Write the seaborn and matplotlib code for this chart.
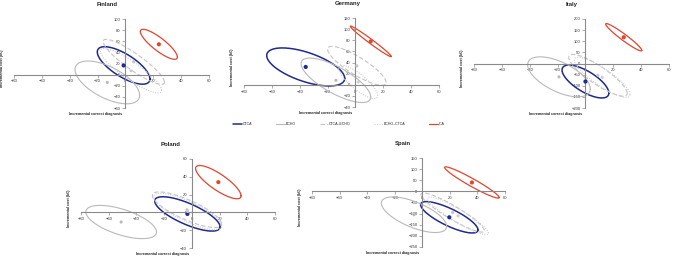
import numpy as np
import pandas as pd
import matplotlib
matplotlib.use("Agg")
import matplotlib.pyplot as plt
from matplotlib.lines import Line2D
import seaborn as sns

# ── data ──────────────────────────────────────────────────
COUNTRIES = ["Finland", "Germany", "Italy", "Poland", "Spain"]
STRATEGIES = ["CTCA", "ECHO", "CTCA–ECHO", "ECHO–CTCA", "ICA"]

# rows = countries, cols = strategies (same order as above)
DX_MEAN = [
    [-1.3, -13.0, 6.0, 4.0, 24.0],
    [-35.7, -14.0, 1.0, 2.0, 11.0],
    [0.0, -19.0, 9.0, 12.0, 27.5],
    [-3.2, -51.0, -3.5, -3.0, 19.1],
    [19.6, -6.0, 22.0, 26.0, 36.0],
]
COST_MEAN = [
    [16.5, -14.0, 23.0, 7.0, 54.5],
    [32.0, 8.0, 34.0, 5.0, 78.0],
    [-81.0, -60.0, -53.0, -62.0, 118.0],
    [-1.7, -10.8, 3.0, 1.0, 34.0],
    [-116.5, -105.0, -95.0, -110.0, 40.0],
]
# half extent of the confidence ellipse along each axis
DX_HALF = [
    [18.9, 23.2, 22.0, 22.0, 13.3],
    [28.0, 25.0, 21.0, 14.0, 14.7],
    [16.8, 22.5, 21.0, 20.0, 13.0],
    [23.6, 25.5, 25.0, 24.5, 16.4],
    [20.8, 23.7, 23.0, 22.0, 19.8],
]
COST_HALF = [
    [33.7, 38.5, 40.5, 40.0, 27.0],
    [34.2, 40.0, 35.0, 30.0, 27.5],
    [74.0, 90.0, 94.0, 90.0, 61.5],
    [19.3, 18.7, 20.0, 20.5, 18.7],
    [70.5, 80.0, 88.0, 85.0, 70.4],
]
RHO = [
    [-0.72, -0.60, -0.90, -0.88, -0.85],
    [-0.60, -0.75, -0.85, -0.82, -0.985],
    [-0.70, -0.60, -0.86, -0.86, -0.96],
    [-0.75, -0.60, -0.80, -0.80, -0.82],
    [-0.80, -0.65, -0.92, -0.92, -0.96],
]
X_TICKS = list(range(-80, 61, 20))
Y_TICKS = [
    list(range(-60, 101, 20)),
    list(range(-40, 121, 20)),
    list(range(-200, 201, 50)),
    list(range(-40, 61, 20)),
    list(range(-250, 151, 50)),
]

# ── style ─────────────────────────────────────────────────
COLORS = {"CTCA": "#1f2a8c", "ECHO": "#b9b9b9", "CTCA–ECHO": "#c4c4c4",
          "ECHO–CTCA": "#cdcdcd", "ICA": "#e2452d"}
DASHES = {"CTCA": "", "ECHO": "", "CTCA–ECHO": (4, 2),
          "ECHO–CTCA": (1, 1.2), "ICA": ""}
WIDTHS = {"CTCA": 1.1, "ECHO": 0.8, "CTCA–ECHO": 0.8, "ECHO–CTCA": 0.8, "ICA": 0.9}
DOTS = {"CTCA": 9, "ECHO": 5, "CTCA–ECHO": 5, "ECHO–CTCA": 5, "ICA": 9}
AXIS_GREY = "#8a8a8a"

sns.set_theme(style="white")
plt.rcParams["font.family"] = ["Liberation Sans", "DejaVu Sans"]

# axes boxes in pixels: left, top(y max), right, bottom(y min)
BOXES = [(14, 19, 209, 108), (244, 18, 439, 107), (474, 19, 669, 108),
         (81, 159, 275, 248), (312, 158, 505, 247)]
TITLE_X = [0.48, 0.53, 0.50, 0.46, 0.47]
W, H = 673, 259

fig = plt.figure(figsize=(W / 100, H / 100), dpi=100)
t = np.linspace(0, 2 * np.pi, 200)

for i, country in enumerate(COUNTRIES):
    l, top, r, bot = BOXES[i]
    ax = fig.add_axes([l / W, 1 - bot / H, (r - l) / W, (bot - top) / H])

    rows = []
    for j, s in enumerate(STRATEGIES):
        a, b, rho = DX_HALF[i][j], COST_HALF[i][j], RHO[i][j]
        xs = DX_MEAN[i][j] + a * np.cos(t)
        ys = COST_MEAN[i][j] + b * (rho * np.cos(t) + np.sqrt(1 - rho ** 2) * np.sin(t))
        rows.append(pd.DataFrame({"dx": xs, "cost": ys, "strategy": s}))
    ell = pd.concat(rows, ignore_index=True)

    sns.lineplot(data=ell, x="dx", y="cost", hue="strategy", style="strategy",
                 size="strategy", palette=COLORS, dashes=DASHES, sizes=WIDTHS,
                 units="strategy", estimator=None, sort=False, legend=False, ax=ax)

    pts = pd.DataFrame({"dx": DX_MEAN[i], "cost": COST_MEAN[i], "strategy": STRATEGIES})
    sns.scatterplot(data=pts, x="dx", y="cost", hue="strategy", size="strategy",
                    palette=COLORS, sizes=DOTS, linewidth=0, legend=False,
                    ax=ax, zorder=5)

    ax.set_xlim(-80, 60)
    ax.set_ylim(Y_TICKS[i][0], Y_TICKS[i][-1])
    ax.set_xticks(X_TICKS)
    ax.set_yticks(Y_TICKS[i])
    ax.spines["left"].set_position(("data", 0))
    ax.spines["bottom"].set_position(("data", 0))
    for sp in ["top", "right"]:
        ax.spines[sp].set_visible(False)
    for sp in ["left", "bottom"]:
        ax.spines[sp].set_color(AXIS_GREY)
        ax.spines[sp].set_linewidth(0.8)
    ax.tick_params(axis="both", which="both", direction="out", length=2,
                   width=0.5, color=AXIS_GREY, labelsize=3.0, pad=1.5,
                   labelcolor="#333333", bottom=True, left=True)
    ax.set_facecolor("none")

    ax.set_xlabel("Incremental correct diagnosis", fontsize=2.7,
                  fontweight="bold", color="#222222")
    ax.set_ylabel("Incremental cost (k€)", fontsize=2.7,
                  fontweight="bold", color="#222222")
    ax.xaxis.set_label_coords(0.42, -0.05)
    ax.yaxis.set_label_coords(-0.05, 0.45)
    ax.text(TITLE_X[i], 1.16, country, transform=ax.transAxes, ha="center",
            va="center", fontsize=4.3, fontweight="bold", color="#222222")

handles = [Line2D([0], [0], color=COLORS[s], lw=WIDTHS[s],
                  linestyle=("-" if DASHES[s] == "" else (0, DASHES[s])))
           for s in STRATEGIES]
fig.legend(handles, STRATEGIES, loc="center", bbox_to_anchor=(0.504, 1 - 124 / H),
           ncol=5, frameon=False, fontsize=2.6, handlelength=2.4,
           columnspacing=6.5, handletextpad=0.3)

fig.savefig("out.png", dpi=100)
